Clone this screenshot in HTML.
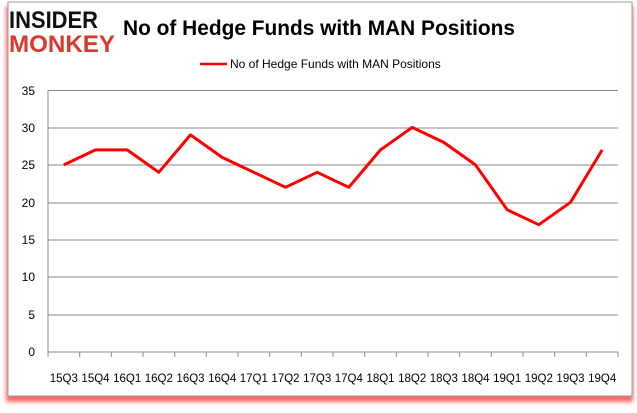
<!DOCTYPE html>
<html><head><meta charset="utf-8"><style>
body{margin:0;width:637px;height:408px;background:#fff;overflow:hidden;font-family:"Liberation Sans",sans-serif}
</style></head><body>
<svg width="637" height="408" xmlns="http://www.w3.org/2000/svg">
<defs><filter id="s" x="-5%" y="-5%" width="110%" height="110%"><feGaussianBlur stdDeviation="2"/></filter></defs>
<rect x="6" y="6" width="627" height="396" fill="#f00" opacity="0.6" filter="url(#s)"/>
<rect x="8" y="2" width="624" height="394" fill="#fff" stroke="#999" stroke-width="1"/>
<text x="9" y="28" font-family="Liberation Sans" font-weight="bold" font-size="24" fill="#111" textLength="89" lengthAdjust="spacingAndGlyphs">INSIDER</text>
<text x="9" y="52" font-family="Liberation Sans" font-weight="bold" font-size="24" fill="#d63a2a" textLength="106" lengthAdjust="spacingAndGlyphs">MONKEY</text>
<text x="123" y="35" font-family="Liberation Sans" font-weight="bold" font-size="21" fill="#000" textLength="392" lengthAdjust="spacingAndGlyphs">No of Hedge Funds with MAN Positions</text>
<line x1="200" y1="64" x2="227" y2="64" stroke="#f00" stroke-width="2.5"/>
<text x="230" y="68" font-size="12" fill="#000">No of Hedge Funds with MAN Positions</text>
<g stroke="#888" stroke-width="1">
<line x1="48" y1="90.5" x2="618" y2="90.5"/><line x1="48" y1="128" x2="618" y2="128"/>
<line x1="48" y1="165" x2="618" y2="165"/><line x1="48" y1="203" x2="618" y2="203"/>
<line x1="48" y1="240" x2="618" y2="240"/><line x1="48" y1="277" x2="618" y2="277"/>
<line x1="48" y1="315" x2="618" y2="315"/><line x1="48" y1="352" x2="618" y2="352"/>
<line x1="48" y1="90" x2="48" y2="357"/>
<path d="M79.7 352v5M111.3 352v5M143 352v5M174.7 352v5M206.3 352v5M238 352v5M269.7 352v5M301.3 352v5M333 352v5M364.7 352v5M396.3 352v5M428 352v5M459.7 352v5M491.3 352v5M523 352v5M554.7 352v5M586.3 352v5M618 352v5"/>
</g>
<g font-size="12" fill="#000" text-anchor="end">
<text x="35" y="95">35</text><text x="35" y="132">30</text><text x="35" y="169">25</text><text x="35" y="207">20</text><text x="35" y="244">15</text><text x="35" y="281">10</text><text x="35" y="319">5</text><text x="35" y="356">0</text>
</g>
<g font-size="11.5" fill="#000" text-anchor="middle">
<text x="63.8" y="382">15Q3</text><text x="95.5" y="382">15Q4</text><text x="127.2" y="382">16Q1</text><text x="158.8" y="382">16Q2</text><text x="190.5" y="382">16Q3</text><text x="222.2" y="382">16Q4</text><text x="253.8" y="382">17Q1</text><text x="285.5" y="382">17Q2</text><text x="317.2" y="382">17Q3</text><text x="348.8" y="382">17Q4</text><text x="380.5" y="382">18Q1</text><text x="412.2" y="382">18Q2</text><text x="443.8" y="382">18Q3</text><text x="475.5" y="382">18Q4</text><text x="507.2" y="382">19Q1</text><text x="538.8" y="382">19Q2</text><text x="570.5" y="382">19Q3</text><text x="602.2" y="382">19Q4</text>
</g>
<polyline fill="none" stroke="#f00" stroke-width="3" stroke-linejoin="round" points="63.8,164.9 95.5,149.9 127.2,149.9 158.8,172.3 190.5,134.9 222.2,157.4 253.8,172.3 285.5,187.3 317.2,172.3 348.8,187.3 380.5,149.9 412.2,127.4 443.8,142.4 475.5,164.9 507.2,209.8 538.8,224.7 570.5,202.3 602.2,149.9"/>
</svg>
</body></html>
